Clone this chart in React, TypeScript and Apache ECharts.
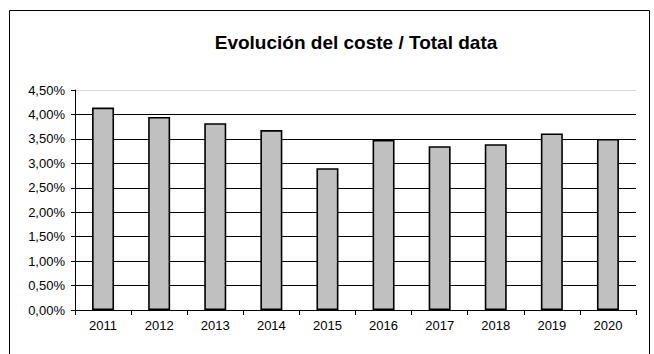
import React, { useEffect, useRef } from "react";
import * as echarts from "echarts";

const years = ["2011", "2012", "2013", "2014", "2015", "2016", "2017", "2018", "2019", "2020"];
const costRatio = [4.14, 3.95, 3.82, 3.68, 2.9, 3.48, 3.35, 3.39, 3.61, 3.5];
const titleText = "Evolución del coste / Total data";

export default function App() {
  const ref = useRef<HTMLDivElement>(null);
  useEffect(() => {
    if (!ref.current) return;
    const chart = echarts.init(ref.current, undefined, { renderer: "svg" });
    const font = "'Liberation Sans', Arial, sans-serif";
    const gridColors = ["#000", "#000", "#000", "#000", "#000", "#000", "#000", "#000", "#000", "#d9d9d9"];
    chart.setOption({
      animation: false,
      backgroundColor: "#fff",
      title: {
        text: titleText,
        left: 351,
        textAlign: "center",
        top: 28,
        textStyle: { fontFamily: font, fontSize: 19, fontWeight: "bold", color: "#000" },
      },
      graphic: [
        {
          type: "rect",
          shape: { x: 9.5, y: 10.5, width: 640, height: 360 },
          style: { fill: "none", stroke: "#000", lineWidth: 1 },
          silent: true,
        },
      ],
      grid: { left: 75, right: 18, top: 90, bottom: 44 },
      xAxis: {
        type: "category",
        data: years,
        boundaryGap: true,
        axisLine: { lineStyle: { color: "#000", width: 1 } },
        axisTick: { show: true, length: 5, lineStyle: { color: "#000" } },
        axisLabel: { fontFamily: font, fontSize: 13, color: "#000", margin: 9 },
      },
      yAxis: {
        type: "value",
        min: 0,
        max: 4.5,
        interval: 0.5,
        axisLine: { show: true, lineStyle: { color: "#000", width: 1 } },
        axisTick: { show: true, length: 4, lineStyle: { color: "#000" } },
        axisLabel: {
          fontFamily: font,
          fontSize: 13,
          color: "#000",
          margin: 10,
          formatter: (v: number) => v.toFixed(2).replace(".", ",") + "%",
        },
        splitLine: { show: true, lineStyle: { color: gridColors, width: 1 } },
      },
      series: [
        {
          type: "bar",
          data: costRatio,
          barWidth: 22,
          itemStyle: { color: "#c0c0c0", borderColor: "#000", borderWidth: 1.6 },
        },
      ],
    });
    return () => chart.dispose();
  }, []);
  return (
    <div
      ref={ref}
      style={{ position: "absolute", left: 0, top: 0, width: 654, height: 354 }}
    />
  );
}
